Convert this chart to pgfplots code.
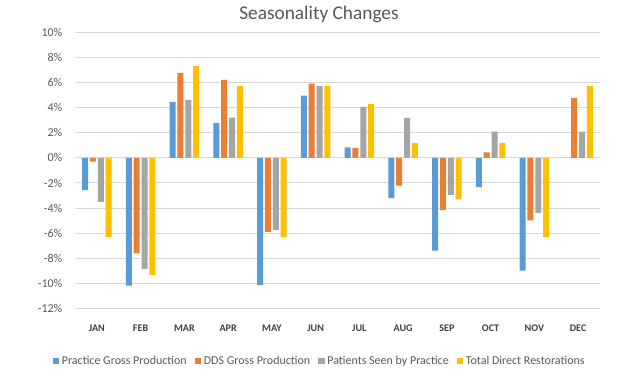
\documentclass[border=0pt]{standalone}
\usepackage{fontspec}
\setmainfont{Carlito}
\usepackage{pgfplots}
\pgfplotsset{compat=1.18}
\definecolor{cblue}{HTML}{5B9BD5}
\definecolor{corange}{HTML}{ED7D31}
\definecolor{cgray}{HTML}{A5A5A5}
\definecolor{cyellow}{HTML}{FFC000}
\definecolor{txt}{HTML}{595959}
\definecolor{gridc}{HTML}{D9D9D9}
\definecolor{mon}{HTML}{404040}
\begin{document}
\begin{tikzpicture}
\path[fill=white,use as bounding box] (0,0) rectangle (480pt,285pt);
\node[font=\fontsize{14.5}{16}\selectfont, text=txt] at (239.25pt,274.5pt) {Seasonality Changes};
\begin{axis}[
  at={(56.25pt,53.8pt)}, anchor=south west,
  scale only axis, width=393.75pt, height=206.7pt,
  ybar=1.35pt, bar width=4.5pt,
  xmin=-0.5, xmax=11.5, ymin=-12, ymax=10,
  xtick={0,...,11},
  xticklabels={JAN,FEB,MAR,APR,MAY,JUN,JUL,AUG,SEP,OCT,NOV,DEC},
  ytick={-12,-10,...,10},
  yticklabel={\pgfmathprintnumber{\tick}\%},
  /pgf/number format/assume math mode=true,
  axis line style={draw=none},
  tick style={draw=none},
  xmajorgrids=false, xminorgrids=false,
  ymajorgrids=true,
  major grid style={draw=gridc, line width=0.75pt},
  yticklabel style={font=\fontsize{9}{10}\selectfont, text=txt, xshift=-6pt},
  xticklabel style={font=\fontsize{7.6}{8}\selectfont\bfseries, text=mon, yshift=-5pt},
  legend columns=4,
  legend style={at={(0.4667,-0.191)}, anchor=center, draw=none, fill=none,
    font=\fontsize{9}{10}\selectfont, text=txt,
    /tikz/every even column/.append style={column sep=4pt}},
  legend image code/.code={\path[#1,draw=none] (0pt,-2.4pt) rectangle (4.8pt,2.4pt);},
  clip=false,
]
\addplot[fill=cblue, draw=none] coordinates {(0,-2.56) (1,-10.2) (2,4.45) (3,2.8) (4,-10.15) (5,4.98) (6,0.85) (7,-3.2) (8,-7.4) (9,-2.32) (10,-9.0) (11,0)};
\addplot[fill=corange, draw=none] coordinates {(0,-0.3) (1,-7.6) (2,6.8) (3,6.24) (4,-5.9) (5,5.94) (6,0.8) (7,-2.2) (8,-4.16) (9,0.45) (10,-4.98) (11,4.8)};
\addplot[fill=cgray, draw=none] coordinates {(0,-3.5) (1,-8.86) (2,4.64) (3,3.22) (4,-5.76) (5,5.76) (6,4.08) (7,3.2) (8,-2.94) (9,2.1) (10,-4.38) (11,2.1)};
\addplot[fill=cyellow, draw=none] coordinates {(0,-6.3) (1,-9.36) (2,7.33) (3,5.76) (4,-6.3) (5,5.76) (6,4.29) (7,1.2) (8,-3.3) (9,1.2) (10,-6.3) (11,5.76)};
\legend{Practice Gross Production, DDS Gross Production, Patients Seen by Practice, Total Direct Restorations}
\end{axis}
\end{tikzpicture}
\end{document}
